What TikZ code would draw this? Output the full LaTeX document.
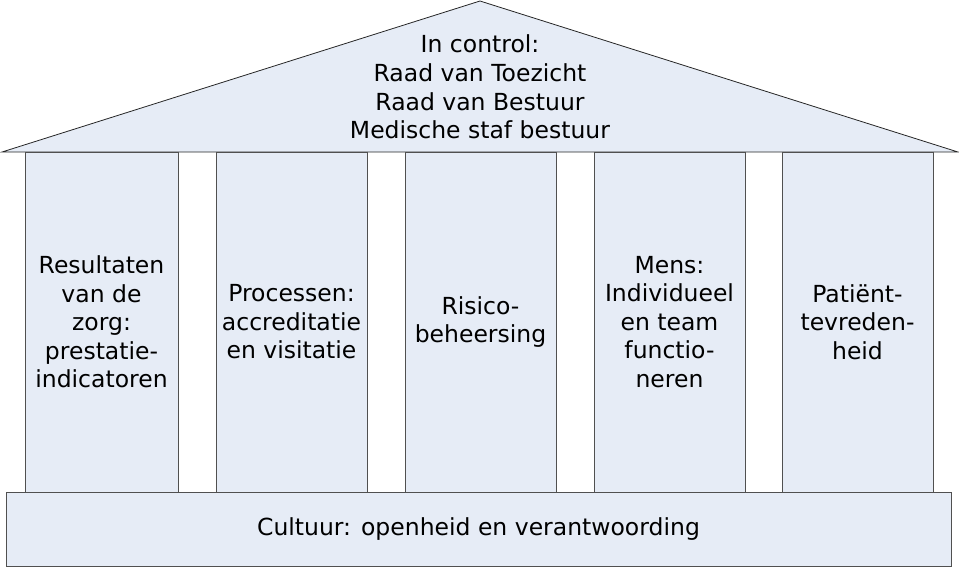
\documentclass[tikz,border=0pt]{standalone}
\usepackage{fontspec}
\setmainfont{DejaVu Sans}
\usepackage{xcolor}
\usetikzlibrary{positioning}

\definecolor{stonefill}{RGB}{230,236,246}
\definecolor{stoneline}{RGB}{80,80,80}

\begin{document}
\begin{tikzpicture}[
      x=1pt, y=-1pt,
      pillar/.style={rectangle, draw=stoneline, fill=stonefill, line width=0.9pt,
                     minimum width=151pt, minimum height=340pt, inner sep=1pt,
                     align=center, font=\fontsize{23.5}{28.5}\selectfont},
      plinth/.style={rectangle, draw=stoneline, fill=stonefill, line width=0.9pt,
                     minimum width=945pt, minimum height=74pt,
                     align=center, font=\fontsize{23.5}{28.5}\selectfont},
      label/.style={align=center, font=\fontsize{23.5}{28.7}\selectfont},
    ]
    \useasboundingbox (0,0) rectangle (959,568);

    % roof
    \coordinate (apex)  at (480,1);
    \coordinate (eaveL) at (2,152);
    \coordinate (eaveR) at (958,152);
    \draw[fill=stonefill, draw=black!85, line width=0.8pt] (eaveL) -- (apex) -- (eaveR) -- cycle;
    \node[label] (roof) at (480,87) {In control:\\Raad van Toezicht\\Raad van Bestuur\\Medische staf bestuur};

    % pillars
    \node[pillar, minimum width=153pt] (results) at (101.5,322) {Resultaten\\van de\\zorg:\\prestatie-\\indicatoren};
    \node[pillar] (process) at (291.5,322) {Processen:\\accreditatie\\en visitatie};
    \node[pillar] (risk)    at (480.5,322) {Risico-\\beheersing};
    \node[pillar] (people)  at (669.5,322) {Mens:\\Individueel\\en team\\functio-\\neren};
    \node[pillar] (patient) at (857.5,322) {Patiënt-\\tevreden-\\heid};

    % base
    \node[plinth] (culture) at (478.5,529) {Cultuur: openheid en verantwoording};
  \end{tikzpicture}
\end{document}
